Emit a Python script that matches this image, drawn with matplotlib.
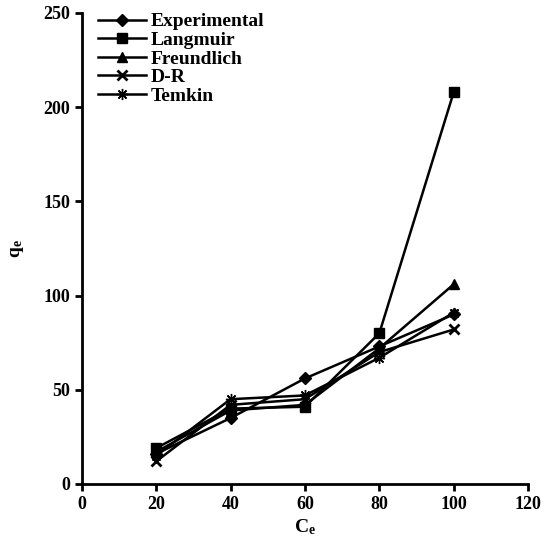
import numpy as np
import matplotlib
matplotlib.use("Agg")
import matplotlib.pyplot as plt

plt.rcParams['font.family'] = ['Liberation Serif', 'DejaVu Serif']
plt.rcParams['font.weight'] = 'bold'
plt.rcParams['mathtext.default'] = 'regular'

ce = [20, 40, 60, 80, 100]
experimental = [16, 35, 56, 73, 90]
langmuir = [19, 40, 41, 80, 208]
freundlich = [17, 39, 42, 72, 106]
dr = [12, 42, 45, 70, 82]
temkin = [15, 45, 47, 67, 91]

series = [
    ("Experimental", experimental, "D", 6),
    ("Langmuir", langmuir, "s", 7),
    ("Freundlich", freundlich, "^", 7),
    ("D-R", dr, "x", 7),
    ("Temkin", temkin, (8, 2, 0), 8),
]

fig = plt.figure(figsize=(5.45, 5.46), dpi=100)
ax = fig.add_axes([0.150, 0.1136, 0.819, 0.8626])

for name, vals, mk, ms in series:
    ax.plot(ce, vals, color='black', lw=1.8, marker=mk, markersize=ms,
            markeredgewidth=2 if mk == 'x' else 1, label=name)

ax.set_xlim(0, 120)
ax.set_ylim(0, 250)
ax.set_xticks(np.arange(0, 121, 20))
ax.set_yticks(np.arange(0, 251, 50))
ax.spines['top'].set_visible(False)
ax.spines['right'].set_visible(False)
ax.spines['left'].set_linewidth(2)
ax.spines['bottom'].set_linewidth(2)
ax.tick_params(direction='out', length=5, width=2, labelsize=13)
ax.set_xlabel('C$_e$', fontsize=14, fontweight='bold', labelpad=3)
ax.set_ylabel('q$_e$', fontsize=14, fontweight='bold', labelpad=12)

ax.legend(loc='upper left', frameon=False, fontsize=14, handlelength=2.5,
          labelspacing=0.05, borderaxespad=0.2, handletextpad=0.2,
          bbox_to_anchor=(0.01, 1.025))

fig.savefig('out.png', dpi=100)
